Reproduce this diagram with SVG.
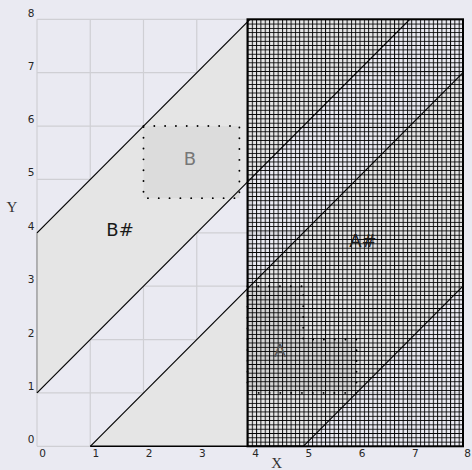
<svg xmlns="http://www.w3.org/2000/svg" width="472" height="470" viewBox="0 0 472 470">
<style>
.grid{stroke:#cfcfd4;stroke-width:1.2}
.tick{font-family:"DejaVu Sans",sans-serif;font-size:10.5px;fill:#262626}
.axl{font-family:"Liberation Serif",serif;font-size:15px;fill:#333}
.band{fill:#e5e5e5;stroke:none}
.edge{stroke:#000;stroke-width:1.2;fill:none}
.dot{stroke:#000;stroke-width:1.9;stroke-dasharray:0.01 10.8;stroke-linecap:round}
.big{font-family:"DejaVu Sans",sans-serif;font-size:18px}
</style>
<defs>
<pattern id="hatch" patternUnits="userSpaceOnUse" x="247.5" y="19.3" width="4.31" height="4.31">
<path d="M0.5 0V4.31M0 0.5H4.31" stroke="#000" stroke-width="0.9" fill="none"/>
</pattern>
</defs>
<rect width="472" height="470" fill="#eaeaf2"/>
<g id="grid">
<path class="grid" d="M37 19.3V446.3M90.25 19.3V446.3M143.5 19.3V446.3M196.75 19.3V446.3M250 19.3V446.3M303.25 19.3V446.3M356.5 19.3V446.3M409.75 19.3V446.3M463 19.3V446.3"/>
<path class="grid" d="M37 19.3H463M37 72.7H463M37 126.05H463M37 179.4H463M37 232.8H463M37 286.2H463M37 339.55H463M37 392.9H463M37 446.3H463"/>
</g>
<g id="ticks">
<text class="tick" text-anchor="middle" x="42.5" y="457">0</text>
<text class="tick" text-anchor="middle" x="95.8" y="457">1</text>
<text class="tick" text-anchor="middle" x="149" y="457">2</text>
<text class="tick" text-anchor="middle" x="202.3" y="457">3</text>
<text class="tick" text-anchor="middle" x="255.5" y="457">4</text>
<text class="tick" text-anchor="middle" x="308.8" y="457">5</text>
<text class="tick" text-anchor="middle" x="362" y="457">6</text>
<text class="tick" text-anchor="middle" x="415.3" y="457">7</text>
<text class="tick" text-anchor="middle" x="467.5" y="457">8</text>
<text class="tick" text-anchor="end" x="34.5" y="443.3">0</text>
<text class="tick" text-anchor="end" x="34.5" y="389.9">1</text>
<text class="tick" text-anchor="end" x="34.5" y="336.5">2</text>
<text class="tick" text-anchor="end" x="34.5" y="283.2">3</text>
<text class="tick" text-anchor="end" x="34.5" y="229.8">4</text>
<text class="tick" text-anchor="end" x="34.5" y="176.4">5</text>
<text class="tick" text-anchor="end" x="34.5" y="123">6</text>
<text class="tick" text-anchor="end" x="34.5" y="69.7">7</text>
<text class="tick" text-anchor="end" x="34.5" y="16.5">8</text>
<text class="axl" text-anchor="middle" x="276.7" y="467.5">X</text>
<text class="axl" text-anchor="middle" x="12" y="212">Y</text>
</g>
<g id="Bsharp">
<polygon class="band" points="37,392.9 37,232.8 250,19.3 409.75,19.3"/>
<line x1="37" y1="232.8" x2="37" y2="392.9" stroke="#808080" stroke-width="1"/>
</g>
<g id="Asharp">
<polygon class="band" points="90.25,446.3 303.25,446.3 463,286.2 463,72.7"/>
<line x1="90.25" y1="446.3" x2="303.25" y2="446.3" stroke="#000" stroke-width="1.5"/>
</g>
<g id="B">
<rect x="143.5" y="126.05" width="95.9" height="72.1" fill="#dcdcdc"/>
<rect x="143.5" y="126.05" width="95.9" height="72.1" fill="none" class="dot"/>
</g>
<g id="A">
<polygon points="247.5,286.2 303.25,286.2 303.25,339.55 356.5,339.55 356.5,392.9 247.5,392.9" fill="#d4d4d4"/>
</g>
<g id="hatchregion">
<rect x="247.5" y="19.3" width="215.5" height="427" fill="url(#hatch)" stroke="#000" stroke-width="2"/>
</g>
<g id="Adots">
<polygon points="247.5,286.2 303.25,286.2 303.25,339.55 356.5,339.55 356.5,392.9 247.5,392.9" fill="none" class="dot"/>
</g>
<g id="connectors">
<line class="edge" x1="37" y1="232.8" x2="250" y2="19.3"/>
<line class="edge" x1="37" y1="392.9" x2="409.75" y2="19.3"/>
<line class="edge" x1="90.25" y1="446.3" x2="463" y2="72.7"/>
<line class="edge" x1="303.25" y1="446.3" x2="463" y2="286.2"/>
</g>
<g id="labels">
<text class="big" fill="#1a1a1a" text-anchor="middle" x="120" y="236">B#</text>
<text class="big" fill="#1a1a1a" text-anchor="middle" x="363" y="247">A#</text>
<text class="big" fill="#777" text-anchor="middle" x="190" y="165">B</text>
<text class="big" fill="#555" text-anchor="middle" x="280" y="357">A</text>
</g>
</svg>
